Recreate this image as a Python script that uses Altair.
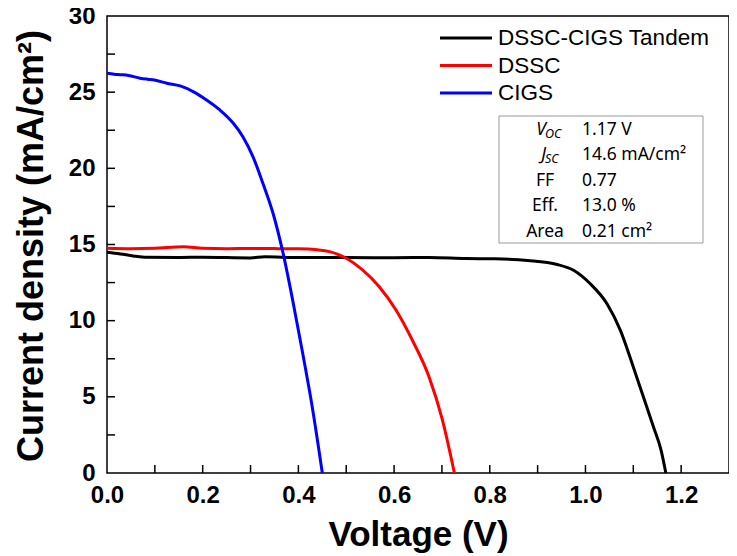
import altair as alt
import pandas as pd

# ---------------- data ----------------
series_names = ["DSSC-CIGS Tandem", "DSSC", "CIGS"]
series_colors = ["#000000", "#ff0000", "#0000ff"]

tandem_v = [0.0, 0.028, 0.055, 0.083, 0.15, 0.2, 0.3, 0.33, 0.4, 0.5, 0.6, 0.673, 0.75, 0.81,
            0.879, 0.941, 0.976, 1.01, 1.045, 1.073, 1.1, 1.121, 1.142, 1.158, 1.168]
tandem_j = [14.49, 14.38, 14.25, 14.16, 14.15, 14.17, 14.12, 14.2, 14.14, 14.15, 14.13, 14.15, 14.08, 14.06,
            13.95, 13.69, 13.29, 12.42, 11.11, 9.36, 6.96, 5.0, 3.03, 1.5, 0.0]

dssc_v = [0.0, 0.05, 0.1, 0.16, 0.2, 0.25, 0.3, 0.35, 0.4, 0.44, 0.465, 0.5, 0.534, 0.569,
          0.604, 0.638, 0.673, 0.701, 0.726]
dssc_j = [14.75, 14.72, 14.75, 14.85, 14.75, 14.72, 14.74, 14.73, 14.72, 14.65, 14.53, 14.1, 13.33, 12.23,
          10.7, 8.73, 6.32, 3.48, 0.0]

cigs_v = [0.0, 0.015, 0.028, 0.045, 0.069, 0.085, 0.099, 0.125, 0.153, 0.180, 0.208, 0.236, 0.264,
          0.284, 0.305, 0.326, 0.347, 0.368, 0.388, 0.409, 0.430, 0.450]
cigs_j = [26.24, 26.18, 26.15, 26.1, 25.92, 25.85, 25.8, 25.59, 25.41, 25.04, 24.49, 23.83, 22.96,
          22.08, 20.77, 19.0, 17.05, 14.43, 11.36, 7.86, 4.14, 0.0]

x_label_values = [0.0, 0.2, 0.4, 0.6, 0.8, 1.0, 1.2]
x_tick_values = [0.1, 0.2, 0.3, 0.4, 0.5, 0.6, 0.7, 0.8, 0.9, 1.0, 1.1, 1.2]
y_label_values = [0, 5, 10, 15, 20, 25, 30]
y_tick_values = [2.5, 5, 7.5, 10, 12.5, 15, 17.5, 20, 22.5, 25, 27.5]

table_names = ["V", "J", "FF", "Eff.", "Area"]
table_subs = ["OC", "SC", "", "", ""]
table_values = ["1.17 V", "14.6 mA/cm²", "0.77", "13.0 %", "0.21 cm²"]

# ---------------- layout ----------------
W, H = 622, 457
TICK = 8

rows = []
for name, vs, js in zip(series_names, [tandem_v, dssc_v, cigs_v], [tandem_j, dssc_j, cigs_j]):
    for i, (v, j) in enumerate(zip(vs, js)):
        rows.append({"series": name, "V": v, "J": j, "i": i})
df = pd.DataFrame(rows)

xs = alt.Scale(domain=[0, 1.3], nice=False, zero=False)
ys = alt.Scale(domain=[0, 30], nice=False)

x_axis = alt.Axis(
    values=x_label_values, format=".1f", title="Voltage (V)",
    labelFont="Liberation Sans", labelFontWeight="bold", labelFontSize=24, labelColor="black",
    labelFlush=False, ticks=False, tickSize=0, domain=False, grid=False, labelPadding=10,
    titleFont="Liberation Sans", titleFontWeight="bold", titleFontSize=35, titleColor="black",
    titleX=W / 2, titleY=72, titleBaseline="alphabetic")
y_axis = alt.Axis(
    values=y_label_values, format="d", title="Current density (mA/cm²)",
    labelFont="Liberation Sans", labelFontWeight="bold", labelFontSize=24, labelColor="black",
    labelFlush=False, ticks=False, tickSize=0, domain=False, grid=False, labelPadding=12,
    titleFont="Liberation Sans", titleFontWeight="bold", titleFontSize=36, titleColor="black",
    titleX=-65, titleY=H / 2 + 1, titleBaseline="alphabetic")

lines = alt.Chart(df).mark_line(strokeWidth=3, interpolate="monotone", clip=True).encode(
    x=alt.X("V:Q", scale=xs, axis=x_axis),
    y=alt.Y("J:Q", scale=ys, axis=y_axis),
    color=alt.Color("series:N", scale=alt.Scale(domain=series_names, range=series_colors), legend=None),
    detail="series:N",
    order="i:Q",
)

xticks = alt.Chart(pd.DataFrame({"V": x_tick_values})).mark_rule(color="black", strokeWidth=1.5).encode(
    x=alt.X("V:Q", scale=xs, axis=x_axis), y=alt.value(H), y2=alt.value(H - TICK))
yticks = alt.Chart(pd.DataFrame({"J": y_tick_values})).mark_rule(color="black", strokeWidth=1.5).encode(
    y=alt.Y("J:Q", scale=ys, axis=y_axis), x=alt.value(0), x2=alt.value(TICK))

layers = [lines, xticks, yticks]

# legend (manual)
leg_x0, leg_x1, leg_tx = 333, 385, 391
leg_rows = [22, 49.5, 77]
for name, col, yy in zip(series_names, series_colors, leg_rows):
    layers.append(alt.Chart(pd.DataFrame({"s": [name]})).mark_rule(color=col, strokeWidth=3).encode(
        x=alt.value(leg_x0), x2=alt.value(leg_x1), y=alt.value(yy)))
    layers.append(alt.Chart(pd.DataFrame({"s": [name]})).mark_text(
        align="left", baseline="middle", font="Liberation Sans", fontSize=22.5, color="black").encode(
        text="s:N", x=alt.value(leg_tx), y=alt.value(yy)))

# table box
layers.append(alt.Chart(pd.DataFrame({"a": [0]})).mark_rect(fill="white", stroke="#999999", strokeWidth=1).encode(
    x=alt.value(392), x2=alt.value(596), y=alt.value(100), y2=alt.value(227)))

tab_rows = [114, 139, 164.5, 190, 215.5]
for nm, sub, val, yy in zip(table_names, table_subs, table_values, tab_rows):
    if sub:
        layers.append(alt.Chart(pd.DataFrame({"s": [nm]})).mark_text(
            align="right", baseline="middle", font="Noto Sans", fontSize=17.5, fontStyle="italic", color="black").encode(
            text="s:N", x=alt.value(439), y=alt.value(yy)))
        layers.append(alt.Chart(pd.DataFrame({"s": [sub]})).mark_text(
            align="left", baseline="middle", font="Noto Sans", fontSize=12.5, fontStyle="italic", color="black").encode(
            text="s:N", x=alt.value(438), y=alt.value(yy + 4)))
    else:
        layers.append(alt.Chart(pd.DataFrame({"s": [nm]})).mark_text(
            align="center", baseline="middle", font="Noto Sans", fontSize=17.5, color="black").encode(
            text="s:N", x=alt.value(438), y=alt.value(yy)))
    layers.append(alt.Chart(pd.DataFrame({"s": [val]})).mark_text(
        align="left", baseline="middle", font="Noto Sans", fontSize=17.5, color="black").encode(
        text="s:N", x=alt.value(475), y=alt.value(yy)))

chart = alt.layer(*layers).properties(
    width=W, height=H,
    background="white",
    autosize=alt.AutoSizeParams(type="none"),
    padding={"left": 99, "top": 8, "right": 0, "bottom": 83},
).configure_view(stroke="black", strokeWidth=1.5)

chart.save("out.html", embed_options={"renderer": "svg", "actions": False})
